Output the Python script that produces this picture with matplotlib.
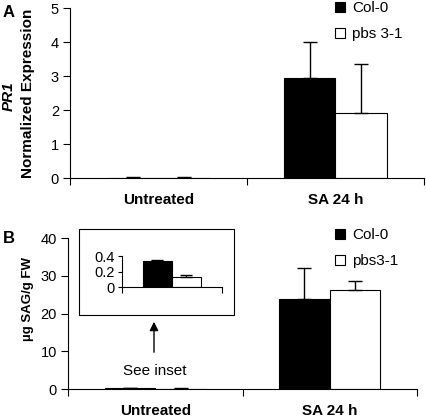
import matplotlib
matplotlib.use("Agg")
import matplotlib.pyplot as plt
from matplotlib.patches import Rectangle, FancyArrowPatch
import numpy as np

plt.rcParams['font.family'] = ['Liberation Sans', 'DejaVu Sans']

# Data
categories = ['Untreated', 'SA 24 h']
pr1_col0 = [0.01, 2.95]
pr1_col0_err = [0.005, 1.04]
pr1_pbs = [0.01, 1.92]
pr1_pbs_err = [0.005, 1.43]

sag_col0 = [0.33, 23.8]
sag_col0_err = [0.015, 8.3]
sag_pbs = [0.13, 26.2]
sag_pbs_err = [0.025, 2.5]

W, H = 427, 419
fig = plt.figure(figsize=(W / 100, H / 100), dpi=100)


def fr(x0, y0, x1, y1):
    # pixel box (top-left origin) -> figure fraction rect
    return [x0 / W, 1 - y1 / H, (x1 - x0) / W, (y1 - y0) / H]


def px(x, y):
    return x / W, 1 - y / H


ERR = dict(ecolor='black', elinewidth=1, capsize=5, capthick=1)
wd = 0.29
x = np.arange(len(categories))


def style_axes(ax, ylim, yticks):
    for s in ['top', 'right']:
        ax.spines[s].set_visible(False)
    ax.set_ylim(*ylim)
    ax.set_yticks(yticks)
    ax.tick_params(axis='y', direction='out', length=5, pad=3, labelsize=10.5)
    ax.set_xlim(-0.5, 1.5)
    ax.set_xticks([-0.5, 0.5, 1.5])
    ax.set_xticklabels([])
    ax.tick_params(axis='x', which='major', direction='out', length=5)
    ax.set_xticks([0, 1], minor=True)
    ax.set_xticklabels(categories, minor=True, fontweight='bold', fontsize=11)
    ax.tick_params(axis='x', which='minor', length=0, pad=11)


def add_legend(ax, top_y):
    ax.legend(loc='upper left', bbox_to_anchor=px(335, top_y), bbox_transform=fig.transFigure,
              frameon=False, fontsize=11, borderpad=0, borderaxespad=0,
              handlelength=0.65, handleheight=0.65, handletextpad=0.45, labelspacing=0.8)


# Panel A
axA = fig.add_axes(fr(70, 8, 424, 178))
axA.bar(x - wd / 2, pr1_col0, wd, color='black', edgecolor='black', linewidth=0.8,
        yerr=[np.zeros(2), pr1_col0_err], error_kw=ERR, label='Col-0')
axA.bar(x + wd / 2, pr1_pbs, wd, color='white', edgecolor='black', linewidth=0.8,
        yerr=[np.zeros(2), pr1_pbs_err], error_kw=ERR, label='pbs 3-1')
style_axes(axA, (0, 5), [0, 1, 2, 3, 4, 5])
fig.text(*px(28.5, 93), 'Normalized Expression', rotation=90, fontweight='bold',
         fontsize=11, ha='center', va='center')
fig.text(*px(8.5, 96), 'PR1', rotation=90, fontweight='bold', fontstyle='italic',
         fontsize=11, ha='center', va='center')
add_legend(axA, 1)
fig.text(*px(8.5, 12.5), 'A', fontweight='bold', fontsize=12, ha='center', va='center')

# Panel B
axB = fig.add_axes(fr(68, 238, 417, 389))
axB.bar(x - wd / 2, sag_col0, wd, color='black', edgecolor='black', linewidth=0.8,
        yerr=[np.zeros(2), sag_col0_err], error_kw=ERR, label='Col-0')
axB.bar(x + wd / 2, sag_pbs, wd, color='white', edgecolor='black', linewidth=0.8,
        yerr=[np.zeros(2), sag_pbs_err], error_kw=ERR, label='pbs3-1')
style_axes(axB, (0, 40), [0, 10, 20, 30, 40])
fig.text(*px(28.5, 299), 'µg SAG/g FW', rotation=90, fontweight='bold',
         fontsize=9.5, ha='center', va='center')
add_legend(axB, 228)
fig.text(*px(8.5, 238.5), 'B', fontweight='bold', fontsize=12, ha='center', va='center')

# Inset box
fig.patches.append(Rectangle(px(79, 315), (234 - 79) / W, (315 - 229) / H,
                             transform=fig.transFigure, fill=False, edgecolor='black', linewidth=0.8))
axI = fig.add_axes(fr(122, 256, 222, 287))
axI.bar([-wd / 2], sag_col0[:1], wd, color='black', edgecolor='black', linewidth=0.8,
        yerr=[[0], sag_col0_err[:1]], error_kw=dict(ERR, capsize=4))
axI.bar([wd / 2], sag_pbs[:1], wd, color='white', edgecolor='black', linewidth=0.8,
        yerr=[[0], sag_pbs_err[:1]], error_kw=dict(ERR, capsize=4))
for s in ['top', 'right']:
    axI.spines[s].set_visible(False)
axI.set_ylim(0, 0.4)
axI.set_yticks([0, 0.2, 0.4])
axI.set_yticklabels(['0', '0.2', '0.4'])
axI.tick_params(axis='y', direction='out', length=3, labelsize=10.5, pad=2)
axI.set_xlim(-0.5, 0.5)
axI.set_xticks([-0.5, 0.5])
axI.set_xticklabels([])
axI.tick_params(axis='x', direction='out', length=4)
axI.patch.set_alpha(0)

# Arrow and note
fig.patches.append(FancyArrowPatch(px(154, 355), px(154, 319), transform=fig.transFigure,
                                   arrowstyle='-|>', mutation_scale=13, color='black', linewidth=1))
fig.text(*px(154.5, 371), 'See inset', ha='center', va='center', fontsize=11)

fig.savefig('out.png', dpi=100)
